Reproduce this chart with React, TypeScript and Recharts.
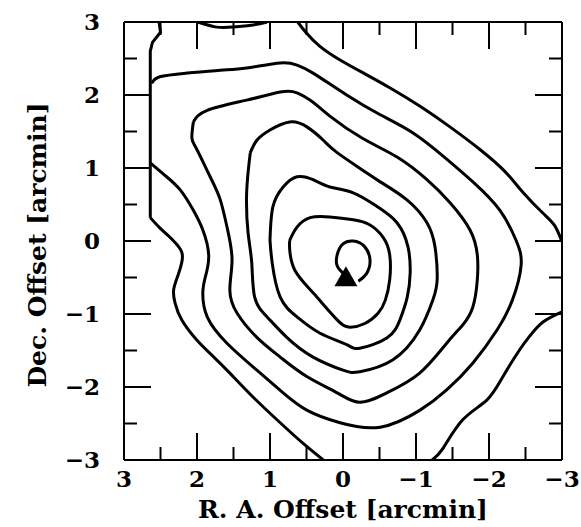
import React from "react";
import { ComposedChart, Line, Scatter, XAxis, YAxis } from "recharts";

// contour traces, [R.A. offset, Dec. offset] in arcmin
const edge = [[2.52, 3.0], [2.5, 2.86], [2.61, 2.72], [2.64, 2.6], [2.64, 0.32]];
const outerWest = [
  [2.64, 0.32], [2.51, 0.18], [2.33, 0.01], [2.21, -0.15], [2.21, -0.3], [2.26, -0.47],
  [2.32, -0.67], [2.3, -0.85], [2.21, -1.08], [2.0, -1.36], [1.78, -1.58], [1.55, -1.81],
  [1.23, -2.14], [0.86, -2.49], [0.55, -2.77], [0.27, -3.0],
];
const outerEast = [
  [-1.22, -3.0], [-1.37, -2.84], [-1.64, -2.45], [-1.97, -2.18], [-2.19, -1.86],
  [-2.42, -1.49], [-2.56, -1.3], [-2.74, -1.11], [-3.0, -0.97],
];
const outerNorth = [
  [0.62, 3.0], [0.51, 2.86], [0.32, 2.67], [0.04, 2.48], [-0.3, 2.29], [-0.64, 2.1],
  [-1.05, 1.85], [-1.47, 1.56], [-1.88, 1.25], [-2.22, 0.95], [-2.47, 0.66],
  [-2.74, 0.38], [-2.9, 0.21], [-3.0, -0.01],
];
const topNotch = [[1.99, 3.0], [1.73, 2.93], [1.51, 2.93], [1.23, 2.96], [1.04, 3.0]];
const level2 = [
  [2.64, 1.07], [2.44, 0.9], [2.23, 0.7], [2.05, 0.42], [1.92, 0.15], [1.84, -0.19],
  [1.88, -0.47], [1.92, -0.7], [1.86, -1.04], [1.59, -1.4], [1.18, -1.77], [0.82, -2.08],
  [0.49, -2.32], [0.04, -2.49], [-0.51, -2.55], [-1.05, -2.32], [-1.42, -2.04],
  [-1.78, -1.67], [-2.11, -1.22], [-2.32, -0.81], [-2.44, -0.33], [-2.37, 0.01],
  [-2.15, 0.42], [-1.78, 0.81], [-1.4, 1.14], [-0.96, 1.48], [-0.51, 1.73], [-0.05, 2.0],
  [0.41, 2.3], [0.63, 2.41], [0.86, 2.44], [1.32, 2.37], [1.68, 2.34], [2.14, 2.3],
  [2.51, 2.25], [2.62, 2.16],
];
const level3 = [
  [2.05, 1.63], [1.86, 1.79], [1.32, 1.93], [0.86, 2.04], [0.63, 2.03], [0.41, 1.9],
  [0.18, 1.71], [-0.26, 1.41], [-0.74, 1.15], [-1.15, 0.84], [-1.47, 0.52], [-1.74, 0.15],
  [-1.84, -0.19], [-1.84, -0.53], [-1.78, -0.9], [-1.64, -1.15], [-1.42, -1.4],
  [-1.05, -1.81], [-0.6, -2.08], [-0.23, -2.21], [0.08, -2.08], [0.49, -1.86],
  [0.86, -1.59], [1.18, -1.32], [1.45, -0.99], [1.55, -0.67], [1.52, -0.26], [1.58, 0.15],
  [1.68, 0.56], [1.82, 0.88], [2.0, 1.25], [2.07, 1.41], [2.05, 1.63],
];
const level4 = [
  [1.27, 1.21], [1.18, 1.38], [1.0, 1.52], [0.73, 1.63], [0.49, 1.56], [0.27, 1.38],
  [0.08, 1.21], [-0.27, 0.97], [-0.51, 0.81], [-0.88, 0.56], [-1.15, 0.25], [-1.26, -0.08],
  [-1.29, -0.53], [-1.23, -0.81], [-1.05, -1.22], [-0.68, -1.63], [-0.23, -1.79],
  [0.0, -1.77], [0.41, -1.59], [0.77, -1.32], [1.04, -1.04], [1.21, -0.77], [1.25, -0.3],
  [1.3, 0.11], [1.32, 0.66], [1.27, 1.21],
];
const level5 = [
  [1.0, 0.01], [0.96, 0.47], [0.82, 0.74], [0.63, 0.88], [0.41, 0.84], [0.18, 0.74],
  [-0.14, 0.66], [-0.47, 0.47], [-0.74, 0.25], [-0.89, -0.08], [-0.92, -0.44],
  [-0.88, -0.77], [-0.78, -1.08], [-0.6, -1.33], [-0.23, -1.47], [-0.05, -1.42],
  [0.32, -1.26], [0.63, -1.04], [0.86, -0.77], [0.97, -0.3], [1.0, 0.01],
];
const level6 = [
  [0.73, 0.01], [0.63, 0.19], [0.45, 0.32], [0.18, 0.33], [-0.14, 0.29], [-0.37, 0.22],
  [-0.55, 0.05], [-0.64, -0.19], [-0.64, -0.53], [-0.58, -0.81], [-0.48, -0.99],
  [-0.3, -1.13], [-0.1, -1.18], [0.08, -1.08], [0.41, -0.71], [0.66, -0.4], [0.73, -0.12],
  [0.73, 0.01],
];
const level7 = [
  [0.0, -0.44], [0.08, -0.34], [0.08, -0.19], [0.0, -0.04], [-0.14, 0.0], [-0.29, -0.07],
  [-0.37, -0.26], [-0.32, -0.45], [-0.21, -0.55],
];
const peak = [[-0.04, -0.53]];

const ticks = [-3, -2.5, -2, -1.5, -1, -0.5, 0, 0.5, 1, 1.5, 2, 2.5, 3];

const toPts = (rows: number[][]) => rows.map(([ra, dec]) => ({ ra, dec }));

const FONT = "DejaVu Serif";
const INK = "#000";
const MAJOR = 27;
const MINOR = 13;

const label = (v: number) => (v < 0 ? `\u2212${-v}` : `${v}`);
const tickLen = (v: number) => (Number.isInteger(v) ? MAJOR : MINOR);

function BottomTick({ x, y, payload }: any) {
  const v = payload.value;
  return (
    <g>
      <line x1={x} y1={y} x2={x} y2={y - tickLen(v)} stroke={INK} strokeWidth={2} />
      {Number.isInteger(v) && (
        <text x={x} y={y + 27} textAnchor="middle" fontSize={23} fontWeight="bold" fontFamily={FONT} fill={INK}>
          {label(v)}
        </text>
      )}
    </g>
  );
}

function TopTick({ x, y, payload }: any) {
  return <line x1={x} y1={y} x2={x} y2={y + tickLen(payload.value)} stroke={INK} strokeWidth={2} />;
}

function LeftTick({ x, y, payload }: any) {
  const v = payload.value;
  return (
    <g>
      <line x1={x} y1={y} x2={x + tickLen(v)} y2={y} stroke={INK} strokeWidth={2} />
      {Number.isInteger(v) && (
        <text x={x - 24} y={y + 8} textAnchor="end" fontSize={23} fontWeight="bold" fontFamily={FONT} fill={INK}>
          {label(v)}
        </text>
      )}
    </g>
  );
}

function RightTick({ x, y, payload }: any) {
  return <line x1={x} y1={y} x2={x - tickLen(payload.value)} y2={y} stroke={INK} strokeWidth={2} />;
}

function YTitle({ viewBox }: any) {
  const cx = viewBox.x + viewBox.width - 78;
  const cy = viewBox.y + viewBox.height / 2 + 4;
  return (
    <text x={cx} y={cy} transform={`rotate(-90 ${cx} ${cy})`} textAnchor="middle" fontSize={25} fontWeight="bold" fontFamily={FONT} fill={INK}>
      Dec. Offset [arcmin]
    </text>
  );
}

function XTitle({ viewBox }: any) {
  const cx = viewBox.x + viewBox.width / 2;
  const cy = viewBox.y + 58;
  return (
    <text x={cx} y={cy} textAnchor="middle" fontSize={25} fontWeight="bold" fontFamily={FONT} fill={INK}>
      R. A. Offset [arcmin]
    </text>
  );
}

function Triangle({ cx, cy }: any) {
  const h = 20;
  const w = 23;
  return (
    <polygon
      points={`${cx},${cy - (2 * h) / 3} ${cx - w / 2},${cy + h / 3} ${cx + w / 2},${cy + h / 3}`}
      fill={INK}
    />
  );
}

const contours = [
  { key: "edge", rows: edge, curve: "linear" },
  { key: "outerWest", rows: outerWest, curve: "natural" },
  { key: "outerEast", rows: outerEast, curve: "natural" },
  { key: "outerNorth", rows: outerNorth, curve: "natural" },
  { key: "topNotch", rows: topNotch, curve: "natural" },
  { key: "level2", rows: level2, curve: "natural" },
  { key: "level3", rows: level3, curve: "natural" },
  { key: "level4", rows: level4, curve: "natural" },
  { key: "level5", rows: level5, curve: "natural" },
  { key: "level6", rows: level6, curve: "natural" },
  { key: "level7", rows: level7, curve: "natural" },
];

const axisLine = { stroke: INK, strokeWidth: 2 };

export default function App() {
  return (
    <div style={{ position: "absolute", left: 0, top: 0, background: "#fff" }}>
      <ComposedChart width={581} height={527} margin={{ top: 12, right: 9, bottom: 7, left: 4 }}>
        <XAxis
          xAxisId="b"
          type="number"
          dataKey="ra"
          domain={[-3, 3]}
          reversed
          allowDataOverflow
          ticks={ticks}
          interval={0}
          height={60}
          tickSize={0}
          tickMargin={0}
          tickLine={false}
          axisLine={axisLine}
          tick={BottomTick}
          label={<XTitle />}
        />
        <XAxis
          xAxisId="t"
          orientation="top"
          type="number"
          dataKey="ra"
          domain={[-3, 3]}
          reversed
          allowDataOverflow
          ticks={ticks}
          interval={0}
          height={10}
          tickSize={0}
          tickMargin={0}
          tickLine={false}
          axisLine={axisLine}
          tick={TopTick}
        />
        <YAxis
          yAxisId="l"
          type="number"
          dataKey="dec"
          domain={[-3, 3]}
          allowDataOverflow
          ticks={ticks}
          interval={0}
          width={120}
          tickSize={0}
          tickMargin={0}
          tickLine={false}
          axisLine={axisLine}
          tick={LeftTick}
          label={<YTitle />}
        />
        <YAxis
          yAxisId="r"
          orientation="right"
          type="number"
          dataKey="dec"
          domain={[-3, 3]}
          allowDataOverflow
          ticks={ticks}
          interval={0}
          width={10}
          tickSize={0}
          tickMargin={0}
          tickLine={false}
          axisLine={axisLine}
          tick={RightTick}
        />
        {contours.map((c) => (
          <Line
            key={c.key}
            xAxisId="b"
            yAxisId="l"
            data={toPts(c.rows)}
            dataKey="dec"
            type={c.curve as any}
            stroke={INK}
            strokeWidth={3}
            dot={false}
            activeDot={false}
            isAnimationActive={false}
          />
        ))}
        <Scatter
          xAxisId="b"
          yAxisId="l"
          data={toPts(peak)}
          dataKey="dec"
          shape={<Triangle />}
          isAnimationActive={false}
        />
      </ComposedChart>
    </div>
  );
}
